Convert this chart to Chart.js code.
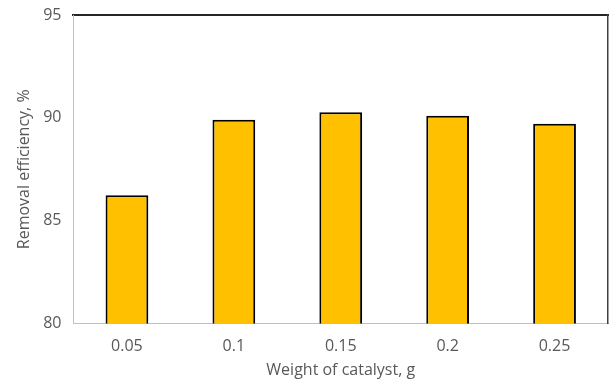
<!DOCTYPE html>
<html>
<head>
<meta charset="utf-8">
<script src="https://cdn.jsdelivr.net/npm/chart.js@4/dist/chart.umd.min.js"></script>
<style>
  html, body { margin: 0; padding: 0; background: #fff; }
  #wrap { width: 611px; height: 383px; }
</style>
</head>
<body>
<div id="wrap"><canvas id="chart"></canvas></div>
<script>
// catalyst weight (g) vs removal efficiency (%)
const categories = ['0.05', '0.1', '0.15', '0.2', '0.25'];
const efficiency = [86.24, 89.91, 90.27, 90.1, 89.72];
const yTicks = [80, 85, 90, 95];

const TEXT = '#595959';
const FONT = '"Open Sans", sans-serif';

new Chart(document.getElementById('chart'), {
  type: 'bar',
  data: {
    labels: categories,
    datasets: [{
      data: efficiency,
      backgroundColor: '#FFC000',
      borderColor: '#000000',
      borderWidth: 2,
      borderSkipped: false,
      barPercentage: 0.4,
      categoryPercentage: 1
    }]
  },
  options: {
    responsive: true,
    maintainAspectRatio: false,
    animation: false,
    layout: { padding: { top: 15, right: 3, left: 15, bottom: 3 } },
    plugins: { legend: { display: false }, tooltip: { enabled: false } },
    scales: {
      x: {
        grid: { display: false },
        border: { color: '#BFBFBF', width: 1 },
        ticks: { color: TEXT, font: { size: 16, family: FONT }, padding: 5 },
        title: {
          display: true, text: 'Weight of catalyst, g', color: TEXT,
          font: { size: 16, family: FONT }, padding: { top: 0, bottom: 0 }
        }
      },
      x2: {
        position: 'top',
        grid: { display: false },
        border: { color: '#262626', width: 2 },
        ticks: { display: false },
        afterFit: axis => { axis.height = 0; }
      },
      y: {
        min: 80, max: 95,
        afterBuildTicks: axis => { axis.ticks = yTicks.map(v => ({ value: v })); },
        grid: { display: false },
        border: { color: '#BFBFBF', width: 1 },
        ticks: { color: TEXT, font: { size: 16, family: FONT }, padding: 4 },
        title: {
          display: true, text: 'Removal efficiency, %', color: TEXT,
          font: { size: 16, family: FONT }, padding: { top: 0, bottom: 5 }
        }
      },
      y2: {
        position: 'right',
        grid: { display: false },
        border: { color: '#404040', width: 1.5 },
        ticks: { display: false },
        afterFit: axis => { axis.width = 0; }
      }
    }
  }
});
</script>
</body>
</html>
